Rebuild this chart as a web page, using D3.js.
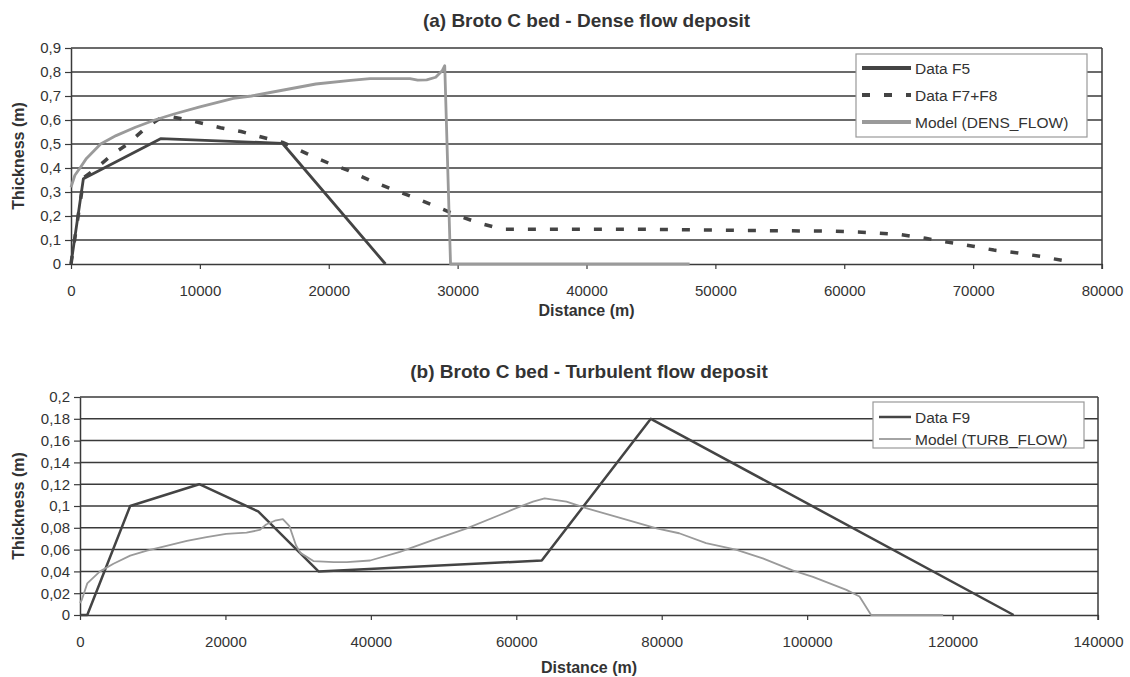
<!DOCTYPE html>
<html>
<head>
<meta charset="utf-8">
<script src="https://cdn.jsdelivr.net/npm/d3@7"></script>
<style>
  body { margin: 0; background: #fff; }
  text { font-family: "Liberation Sans", Arial, sans-serif; fill: #333; }
</style>
</head>
<body>
<div class="chart"></div>
<script>
var svgWidth = 1130;
var svgHeight = 677;

// (a) dense flow deposit
var denseXTicks = [0, 10000, 20000, 30000, 40000, 50000, 60000, 70000, 80000];
var denseYTicks = [0, 0.1, 0.2, 0.3, 0.4, 0.5, 0.6, 0.7, 0.8, 0.9];
var dataF5 = [[0, 0], [960, 0.355], [6950, 0.522], [16400, 0.503], [24400, 0]];
var dataF7F8 = [[0, 0], [1000, 0.36], [1800, 0.392], [3300, 0.46], [4400, 0.5], [5900, 0.572],
  [7000, 0.61], [7700, 0.615], [9500, 0.595], [11600, 0.568], [13200, 0.552], [14700, 0.53],
  [16500, 0.505], [18300, 0.46], [20000, 0.42], [21500, 0.39], [23200, 0.348], [25000, 0.31],
  [26600, 0.278], [28300, 0.24], [30100, 0.2], [31700, 0.17], [33500, 0.145], [44000, 0.145],
  [52000, 0.14], [58900, 0.137], [62000, 0.131], [64400, 0.122], [66300, 0.107], [68100, 0.09],
  [70000, 0.074], [71600, 0.058], [73500, 0.046], [75300, 0.031], [77200, 0.012]];
var modelDens = [[0, 0.32], [300, 0.37], [700, 0.4], [1200, 0.44], [2300, 0.5], [3500, 0.535],
  [5000, 0.57], [6500, 0.6], [8000, 0.625], [10000, 0.655], [12600, 0.69], [14000, 0.7],
  [16500, 0.725], [19000, 0.75], [21700, 0.765], [23200, 0.772], [26300, 0.772], [26900, 0.766],
  [27600, 0.767], [28300, 0.778], [28800, 0.805], [29000, 0.826], [29450, 0], [48000, 0]];

// (b) turbulent flow deposit
var turbXTicks = [0, 20000, 40000, 60000, 80000, 100000, 120000, 140000];
var turbYTicks = [0, 0.02, 0.04, 0.06, 0.08, 0.1, 0.12, 0.14, 0.16, 0.18, 0.2];
var dataF9 = [[0, 0], [1000, 0], [6900, 0.1], [16400, 0.12], [24500, 0.095], [32800, 0.04],
  [63500, 0.05], [78500, 0.18], [128400, 0]];
var modelTurb = [[0, 0.011], [250, 0.014], [1000, 0.029], [2750, 0.04], [4600, 0.047],
  [6900, 0.0545], [9200, 0.059], [11900, 0.0635], [14700, 0.068], [17400, 0.0715],
  [20100, 0.0745], [22900, 0.0755], [24700, 0.078], [25600, 0.083], [26800, 0.0865],
  [27900, 0.088], [28800, 0.0815], [29700, 0.064], [30300, 0.057], [32100, 0.0495],
  [34900, 0.0485], [36700, 0.0485], [39900, 0.05], [44000, 0.058], [48600, 0.069],
  [53200, 0.0795], [57800, 0.092], [60500, 0.0995], [62300, 0.104], [63900, 0.107],
  [66900, 0.104], [69600, 0.098], [73800, 0.09], [79300, 0.0795], [82400, 0.075],
  [86100, 0.066], [90200, 0.06], [93900, 0.052], [98000, 0.041], [100800, 0.035],
  [105400, 0.023], [107200, 0.017], [108800, 0], [118700, 0]];

var gridColor = "#3a3a3a";
var darkLine = "#444";
var greyLine = "#9a9a9a";

var svg = d3.select(".chart")
  .append("svg")
  .attr("width", svgWidth)
  .attr("height", svgHeight);

function commaFormat(d) {
  return String(d).replace(".", ",");
}

function drawChart(cfg) {
  var x = d3.scaleLinear().domain([0, cfg.xTicks[cfg.xTicks.length - 1]]).range([cfg.left, cfg.right]);
  var y = d3.scaleLinear().domain([0, cfg.yTicks[cfg.yTicks.length - 1]]).range([cfg.bottom, cfg.top]);
  var g = svg.append("g");

  // horizontal gridlines
  g.append("g").selectAll("line")
    .data(cfg.yTicks.slice(1))
    .enter()
    .append("line")
    .attr("x1", cfg.left)
    .attr("x2", cfg.right)
    .attr("y1", d => y(d))
    .attr("y2", d => y(d))
    .attr("stroke", gridColor)
    .attr("stroke-width", 1.5);

  // right border
  g.append("line")
    .attr("x1", cfg.right).attr("x2", cfg.right)
    .attr("y1", cfg.top).attr("y2", cfg.bottom + 5)
    .attr("stroke", gridColor)
    .attr("stroke-width", 1.5);

  // axes
  var bottomAxis = d3.axisBottom(x)
    .tickValues(cfg.xTicks)
    .tickSize(5)
    .tickSizeOuter(0)
    .tickPadding(16)
    .tickFormat(d3.format("d"));
  var leftAxis = d3.axisLeft(y)
    .tickValues(cfg.yTicks)
    .tickSize(6)
    .tickSizeOuter(0)
    .tickPadding(cfg.yPad)
    .tickFormat(commaFormat);

  var xAxisG = g.append("g")
    .attr("transform", `translate(0, ${cfg.bottom})`)
    .call(bottomAxis);
  var yAxisG = g.append("g")
    .attr("transform", `translate(${cfg.left}, 0)`)
    .call(leftAxis);

  [xAxisG, yAxisG].forEach(function(a) {
    a.select(".domain").attr("stroke", gridColor).attr("stroke-width", 1.5);
    a.selectAll(".tick line").attr("stroke", gridColor).attr("stroke-width", 1.2);
    a.selectAll(".tick text")
      .attr("fill", "#333")
      .style("font-family", "'Liberation Sans', Arial, sans-serif")
      .style("font-size", "15px");
  });

  // series
  var line = d3.line().x(d => x(d[0])).y(d => y(d[1]));
  cfg.series.forEach(function(s) {
    g.append("path")
      .datum(s.values)
      .attr("d", line)
      .attr("fill", "none")
      .attr("stroke", s.color)
      .attr("stroke-width", s.width)
      .attr("stroke-dasharray", s.dash || null)
      .attr("stroke-linejoin", "round");
  });

  // titles
  g.append("text")
    .attr("x", (cfg.left + cfg.right) / 2)
    .attr("y", cfg.titleY)
    .attr("text-anchor", "middle")
    .style("font-size", "19px")
    .style("font-weight", "bold")
    .attr("fill", "#222")
    .text(cfg.title);

  g.append("text")
    .attr("x", (cfg.left + cfg.right) / 2)
    .attr("y", cfg.xLabelY)
    .attr("text-anchor", "middle")
    .style("font-size", "16px")
    .style("font-weight", "bold")
    .attr("fill", "#222")
    .text("Distance (m)");

  g.append("text")
    .attr("transform", `translate(${cfg.yLabelX}, ${(cfg.top + cfg.bottom) / 2}) rotate(-90)`)
    .attr("text-anchor", "middle")
    .attr("dy", "0.35em")
    .style("font-size", "16px")
    .style("font-weight", "bold")
    .attr("fill", "#222")
    .text("Thickness (m)");

  // legend
  var lg = g.append("g");
  lg.append("rect")
    .attr("x", cfg.legend.x)
    .attr("y", cfg.legend.y)
    .attr("width", cfg.legend.w)
    .attr("height", cfg.legend.h)
    .attr("fill", "#fff")
    .attr("stroke", "#999")
    .attr("stroke-width", 1.2);

  cfg.series.forEach(function(s, i) {
    var yy = cfg.legend.y + cfg.legend.first + i * cfg.legend.step;
    lg.append("line")
      .attr("x1", cfg.legend.x + cfg.legend.lx1)
      .attr("x2", 911)
      .attr("y1", yy)
      .attr("y2", yy)
      .attr("stroke", s.color)
      .attr("stroke-width", s.legendWidth || s.width)
      .attr("stroke-dasharray", s.dash || null);
    lg.append("text")
      .attr("x", 915)
      .attr("y", yy)
      .attr("dy", "0.36em")
      .style("font-size", "15.5px")
      .attr("fill", "#333")
      .text(s.name);
  });
}

drawChart({
  left: 71, right: 1102, top: 48, bottom: 264,
  xTicks: denseXTicks, yTicks: denseYTicks, yPad: 4,
  title: "(a) Broto C bed - Dense flow deposit", titleY: 27,
  xLabelY: 316, yLabelX: 18,
  legend: { x: 856, y: 54, w: 231, h: 83, first: 14, step: 27, lx1: 6 },
  series: [
    { name: "Data F5", values: dataF5, color: darkLine, width: 2.8, legendWidth: 4 },
    { name: "Data F7+F8", values: dataF7F8, color: darkLine, width: 3.5, dash: "8,14", legendWidth: 4 },
    { name: "Model (DENS_FLOW)", values: modelDens, color: greyLine, width: 2.8, legendWidth: 4 }
  ]
});

drawChart({
  left: 80, right: 1098, top: 397, bottom: 615,
  xTicks: turbXTicks, yTicks: turbYTicks, yPad: 4,
  title: "(b) Broto C bed - Turbulent flow deposit", titleY: 378,
  xLabelY: 673, yLabelX: 18,
  legend: { x: 873, y: 402, w: 211, h: 46, first: 15, step: 22, lx1: 6 },
  series: [
    { name: "Data F9", values: dataF9, color: darkLine, width: 2.5 },
    { name: "Model (TURB_FLOW)", values: modelTurb, color: greyLine, width: 1.8 }
  ]
});
</script>
</body>
</html>
